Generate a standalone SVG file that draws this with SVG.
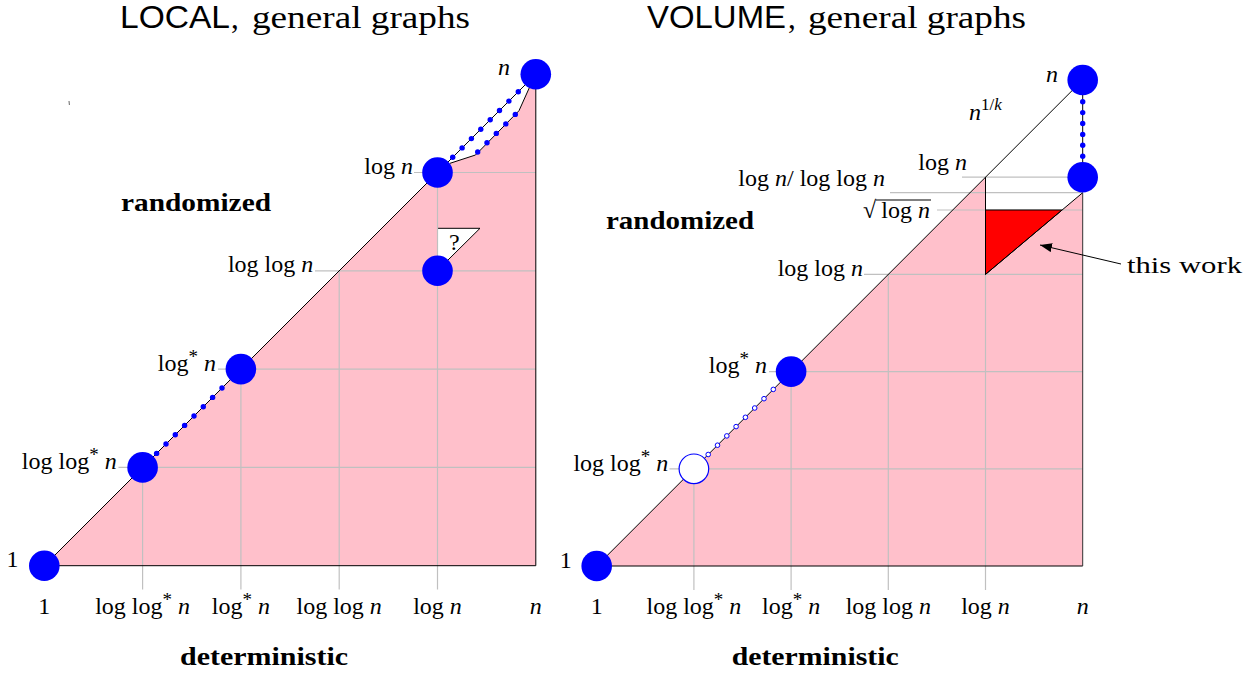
<svg xmlns="http://www.w3.org/2000/svg" width="1260" height="674" viewBox="0 0 1260 674">
<defs>
<style>
.t{font-family:"Liberation Serif","Times New Roman",serif;font-size:24px;fill:#000}
.sup{font-size:17px}
.ast{font-size:19px}
.it{font-style:italic}
.b{font-family:"Liberation Serif","Times New Roman",serif;font-weight:bold;font-size:26px;fill:#000}
.ttl{font-family:"Liberation Serif","Times New Roman",serif;font-size:31px;fill:#000}
.ttls{font-family:"Liberation Sans",Arial,sans-serif;font-size:31px;fill:#000}
.grid{stroke:#c0c0c0;stroke-width:1.2;fill:none}
.edge{stroke:#000;stroke-width:1;fill:none}
.pink{fill:#ffc0cb;stroke:none}
.node{fill:#0000ff}
.dot{fill:#0000ff}
.hdot{fill:#fff;stroke:#0000ff;stroke-width:1}
</style>
<marker id="arr" markerUnits="userSpaceOnUse" markerWidth="13" markerHeight="9" refX="12" refY="4.5" orient="auto">
<path d="M0,0 L12,4.5 L0,9 Z" fill="#000"/>
</marker>
</defs>
<rect width="1260" height="674" fill="#fff"/>

<!-- titles -->
<text class="ttls" x="120" y="28" textLength="110" lengthAdjust="spacingAndGlyphs">LOCAL</text>
<text class="ttl" x="231" y="28">,</text>
<text class="ttl" x="252" y="28" textLength="218" lengthAdjust="spacingAndGlyphs">general graphs</text>
<text class="ttls" x="647" y="28" textLength="139" lengthAdjust="spacingAndGlyphs">VOLUME</text>
<text class="ttl" x="788" y="28">,</text>
<text class="ttl" x="808" y="28" textLength="218" lengthAdjust="spacingAndGlyphs">general graphs</text>

<!-- LEFT CHART background -->
<polygon class="pink" points="44.3,565.7 437.5,172.5 450,163.3 475.5,155 519,110.7 531,84 535.8,74.2 535.8,565.7"/>
<polygon points="437.5,228.3 480,228.3 437.5,270.8" fill="#fff"/>
<path d="M437.5,228.3 H480 L448,260" class="edge"/>
<g class="grid">
<line x1="118.5" y1="467.4" x2="535.8" y2="467.4"/>
<line x1="218" y1="369.1" x2="535.8" y2="369.1"/>
<line x1="315" y1="270.8" x2="535.8" y2="270.8"/>
<line x1="414" y1="172.5" x2="535.8" y2="172.5"/>
<line x1="142.6" y1="467.4" x2="142.6" y2="589.5"/>
<line x1="240.9" y1="369.1" x2="240.9" y2="589.5"/>
<line x1="339.2" y1="270.8" x2="339.2" y2="589.5"/>
<line x1="437.5" y1="172.5" x2="437.5" y2="589.5"/>
</g>
<line x1="69" y1="101" x2="69.4" y2="105" stroke="#666" stroke-width="1"/>

<!-- RIGHT CHART background -->
<polygon class="pink" points="596.7,566 985.5,177.2 985.5,274.4 1082.7,192.7 1082.7,566"/>
<g class="grid">
<line x1="669.5" y1="468.8" x2="1082.7" y2="468.8"/>
<line x1="769" y1="371.6" x2="1082.7" y2="371.6"/>
<line x1="864" y1="274.4" x2="1082.7" y2="274.4"/>
<line x1="937" y1="210" x2="1082.7" y2="210"/>
<line x1="890" y1="192.7" x2="1082.7" y2="192.7"/>
<line x1="962" y1="177.2" x2="1082.7" y2="177.2"/>
<line x1="693.9" y1="468.8" x2="693.9" y2="590"/>
<line x1="791.1" y1="371.6" x2="791.1" y2="590"/>
<line x1="888.3" y1="274.4" x2="888.3" y2="590"/>
<line x1="985.5" y1="274.4" x2="985.5" y2="590"/>
</g>
<polygon points="985.5,210 1062.1,210 985.5,274.4" fill="#ff0000" stroke="#000" stroke-width="1"/>

<!-- connectors -->
<g id="connectors">
<line class="edge" x1="44.3" y1="565.7" x2="535.8" y2="565.7"/>
<line class="edge" x1="535.8" y1="74.2" x2="535.8" y2="565.7"/>
<line class="edge" x1="44.3" y1="565.7" x2="437.5" y2="172.5"/>
<line class="edge" x1="437.5" y1="172.5" x2="535.8" y2="74.2"/>
<polyline class="edge" points="450,163.3 475.5,155 519,110.7 531,84 535.8,74.2"/>
<line class="edge" x1="596.7" y1="566" x2="1082.7" y2="566"/>
<line x1="1082.7" y1="192.7" x2="1082.7" y2="566" stroke="#333" stroke-width="1"/>
<line class="edge" x1="596.7" y1="566" x2="1082.7" y2="80"/>
<line class="edge" x1="985.5" y1="177.2" x2="985.5" y2="274.4"/>
<line class="edge" x1="985.5" y1="274.4" x2="1082.7" y2="192.7"/>
<line class="edge" x1="1082.7" y1="80" x2="1082.7" y2="177.2"/>
<line class="edge" x1="1121" y1="264" x2="1040" y2="245" marker-end="url(#arr)"/>
<g class="dot">
<circle cx="156.6" cy="453.4" r="2.7"/><circle cx="166" cy="444" r="2.7"/><circle cx="175.3" cy="434.7" r="2.7"/><circle cx="184.6" cy="425.4" r="2.7"/><circle cx="194" cy="416" r="2.7"/><circle cx="203.3" cy="406.7" r="2.7"/><circle cx="212.6" cy="397.4" r="2.7"/><circle cx="222" cy="388" r="2.7"/>
<circle cx="452.7" cy="157.3" r="2.7"/><circle cx="462.1" cy="147.9" r="2.7"/><circle cx="471.4" cy="138.6" r="2.7"/><circle cx="480.8" cy="129.2" r="2.7"/><circle cx="490.2" cy="119.8" r="2.7"/><circle cx="499.5" cy="110.5" r="2.7"/><circle cx="508.9" cy="101.1" r="2.7"/><circle cx="518.3" cy="91.7" r="2.7"/>
<circle cx="477.7" cy="152" r="2.7"/><circle cx="487" cy="142.7" r="2.7"/><circle cx="496.3" cy="133.4" r="2.7"/><circle cx="505.8" cy="123.9" r="2.7"/><circle cx="515.3" cy="114.4" r="2.7"/>
<circle cx="1082.7" cy="101.7" r="2.7"/><circle cx="1082.7" cy="112.6" r="2.7"/><circle cx="1082.7" cy="123.5" r="2.7"/><circle cx="1082.7" cy="134.4" r="2.7"/><circle cx="1082.7" cy="145.3" r="2.7"/><circle cx="1082.7" cy="156.2" r="2.7"/>
</g>
<g class="hdot">
<circle cx="708.2" cy="454.5" r="2.3"/><circle cx="717.5" cy="445.2" r="2.3"/><circle cx="726.8" cy="435.9" r="2.3"/><circle cx="736.1" cy="426.6" r="2.3"/><circle cx="745.4" cy="417.3" r="2.3"/><circle cx="754.7" cy="408" r="2.3"/><circle cx="764" cy="398.7" r="2.3"/><circle cx="773.3" cy="389.4" r="2.3"/>
</g>
</g>

<!-- nodes -->
<g id="L1"><circle class="node" cx="44.3" cy="565.7" r="15.3"/></g>
<g id="Lloglogstar"><circle class="node" cx="142.6" cy="467.4" r="15.3"/></g>
<g id="Llogstar"><circle class="node" cx="240.9" cy="369.1" r="15.3"/></g>
<g id="Lq"><circle class="node" cx="437.5" cy="270.8" r="15.3"/></g>
<g id="Llogn"><circle class="node" cx="437.5" cy="172.5" r="15.3"/></g>
<g id="Ln"><circle class="node" cx="535.8" cy="74.2" r="15.3"/></g>
<g id="R1"><circle class="node" cx="596.7" cy="566" r="15.3"/></g>
<g id="Rloglogstar"><circle cx="693.9" cy="468.8" r="14.8" fill="#fff" stroke="#0000ff" stroke-width="1.2"/></g>
<g id="Rlogstar"><circle class="node" cx="791.1" cy="371.6" r="15.3"/></g>
<g id="Rlogn"><circle class="node" cx="1082.7" cy="177.2" r="15.3"/></g>
<g id="Rn"><circle class="node" cx="1082.7" cy="80" r="15.3"/></g>

<!-- left labels -->
<text class="t" x="449" y="250">?</text>
<text class="t" x="18.5" y="566.5" text-anchor="end">1</text>
<text class="t" x="116.7" y="469" text-anchor="end">log log<tspan class="ast" dy="-8">*</tspan><tspan class="it" dy="8"> n</tspan></text>
<text class="t" x="216" y="370.5" text-anchor="end">log<tspan class="ast" dy="-8">*</tspan><tspan class="it" dy="8"> n</tspan></text>
<text class="t" x="313.3" y="272" text-anchor="end">log log<tspan class="it"> n</tspan></text>
<text class="t" x="413" y="174" text-anchor="end">log<tspan class="it"> n</tspan></text>
<text class="t it" x="510" y="75" text-anchor="end">n</text>
<text class="t" x="44.3" y="614" text-anchor="middle">1</text>
<text class="t" x="142.6" y="614" text-anchor="middle">log log<tspan class="ast" dy="-8">*</tspan><tspan class="it" dy="8"> n</tspan></text>
<text class="t" x="240.9" y="614" text-anchor="middle">log<tspan class="ast" dy="-8">*</tspan><tspan class="it" dy="8"> n</tspan></text>
<text class="t" x="339.2" y="614" text-anchor="middle">log log<tspan class="it"> n</tspan></text>
<text class="t" x="437.5" y="614" text-anchor="middle">log<tspan class="it"> n</tspan></text>
<text class="t it" x="535.8" y="614" text-anchor="middle">n</text>
<text class="b" x="121" y="210.5" textLength="150" lengthAdjust="spacingAndGlyphs">randomized</text>
<text class="b" x="180" y="665" textLength="168" lengthAdjust="spacingAndGlyphs">deterministic</text>

<!-- right labels -->
<text class="t" x="571.7" y="568" text-anchor="end">1</text>
<text class="t" x="668.3" y="470.5" text-anchor="end">log log<tspan class="ast" dy="-8">*</tspan><tspan class="it" dy="8"> n</tspan></text>
<text class="t" x="767" y="373" text-anchor="end">log<tspan class="ast" dy="-8">*</tspan><tspan class="it" dy="8"> n</tspan></text>
<text class="t" x="863" y="275.5" text-anchor="end">log log<tspan class="it"> n</tspan></text>
<text class="t" x="863" y="218" font-size="29">√</text>
<line x1="876" y1="200" x2="931" y2="200" stroke="#000" stroke-width="1.1"/>
<text class="t" x="930" y="218" text-anchor="end">log<tspan class="it"> n</tspan></text>
<text class="t" x="885" y="185.5" text-anchor="end">log<tspan class="it"> n</tspan>/ log log<tspan class="it"> n</tspan></text>
<text class="t" x="967" y="170" text-anchor="end">log<tspan class="it"> n</tspan></text>
<text class="t" x="969" y="120"><tspan class="it">n</tspan><tspan class="sup" dy="-10">1/</tspan><tspan class="sup it">k</tspan></text>
<text class="t it" x="1058" y="82" text-anchor="end">n</text>
<text class="t" x="596.7" y="614" text-anchor="middle">1</text>
<text class="t" x="693.9" y="614" text-anchor="middle">log log<tspan class="ast" dy="-8">*</tspan><tspan class="it" dy="8"> n</tspan></text>
<text class="t" x="791.1" y="614" text-anchor="middle">log<tspan class="ast" dy="-8">*</tspan><tspan class="it" dy="8"> n</tspan></text>
<text class="t" x="888.3" y="614" text-anchor="middle">log log<tspan class="it"> n</tspan></text>
<text class="t" x="985.5" y="614" text-anchor="middle">log<tspan class="it"> n</tspan></text>
<text class="t it" x="1082.7" y="614" text-anchor="middle">n</text>
<text class="b" x="606" y="229.3" textLength="148" lengthAdjust="spacingAndGlyphs">randomized</text>
<text class="b" x="731.7" y="665" textLength="167" lengthAdjust="spacingAndGlyphs">deterministic</text>
<text class="t" x="1127" y="273" font-size="28" textLength="115" lengthAdjust="spacingAndGlyphs">this work</text>
</svg>
